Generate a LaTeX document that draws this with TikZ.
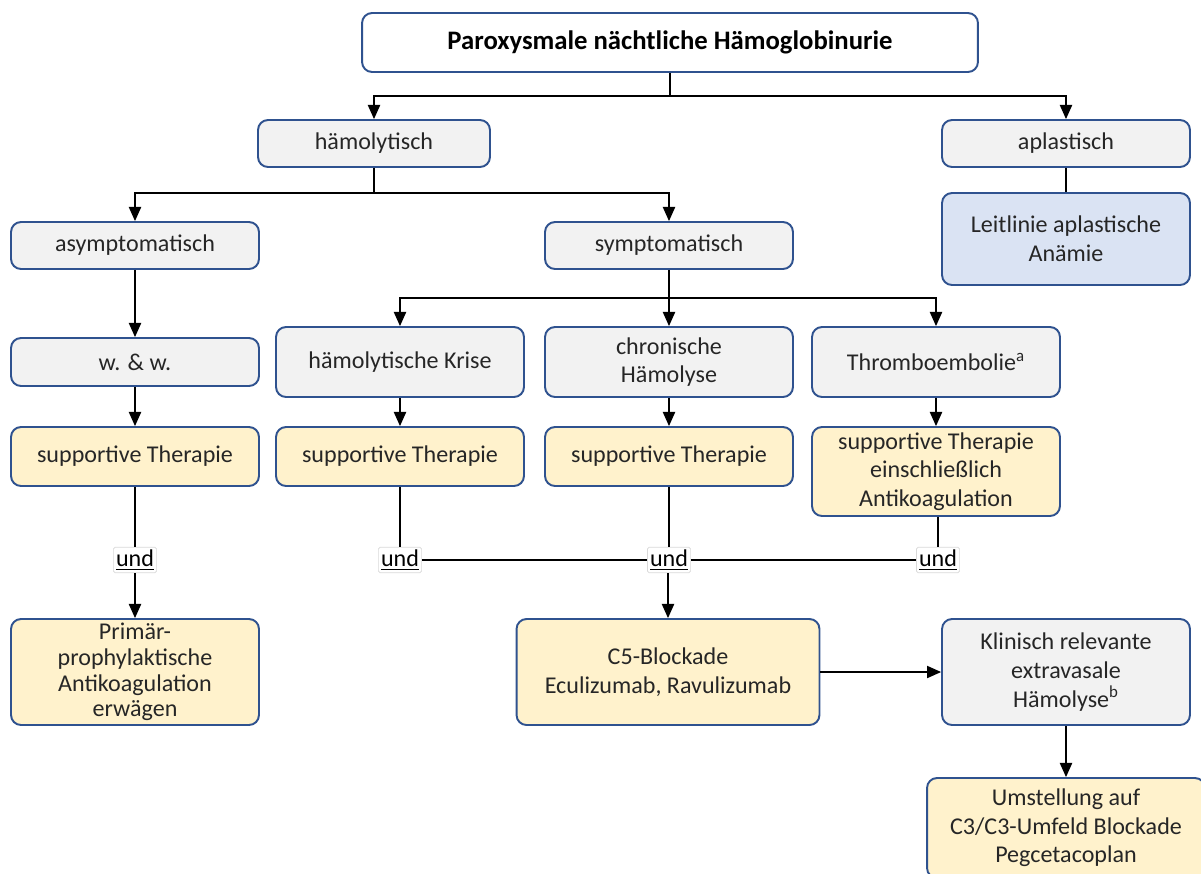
\documentclass[tikz,border=0pt]{standalone}
\usepackage{fontspec}
\setmainfont{Carlito}
\usepackage{xcolor}
\usetikzlibrary{arrows.meta,positioning}

\definecolor{rand}{HTML}{2F528F}
\definecolor{grau}{HTML}{F2F2F2}
\definecolor{gelb}{HTML}{FFF2CC}
\definecolor{hblau}{HTML}{DAE3F3}

\begin{document}
\begin{tikzpicture}[x=0.02cm, y=-0.02cm, font=\fontsize{13.7}{16.3}\selectfont, every node/.style={inner sep=2pt}]
        \tikzset{
            box/.style={draw=rand, line width=1.1pt, rounded corners=0.2cm, align=center, text=black!85, minimum width=4.96cm, minimum height=0.94cm},
            gr/.style={box, fill=grau},
            ge/.style={box, fill=gelb},
            bl/.style={box, fill=hblau},
            und/.style={draw=black!15, fill=white, rounded corners=1pt, inner sep=1.5pt},
            arr/.style={-{Triangle[length=8pt,width=7pt]}, line width=0.6pt},
            ln/.style={line width=0.6pt}
        }
        \useasboundingbox (0,0) rectangle (1201,873);

        % Kopf und erste Ebene
        \node[box, fill=white, minimum width=12.32cm, minimum height=1.18cm, text=black, font=\fontsize{15.2}{18}\selectfont\bfseries] (pnh) at (670,42.5) {Paroxysmale nächtliche Hämoglobinurie};
        \node[gr, minimum width=4.64cm] (haem) at (374,143.5) {hämolytisch};
        \node[gr] (aplast) at (1066,143.5) {aplastisch};
        \node[bl, minimum height=1.84cm] (leit) at (1066,239) {Leitlinie aplastische\\Anämie};

        % zweite Ebene
        \node[gr] (asym) at (135,245.5) {asymptomatisch};
        \node[gr] (sym) at (669,245.5) {symptomatisch};

        % dritte Ebene
        \node[gr, minimum height=0.96cm] (ww) at (135,362) {w. \& w.};
        \node[gr, minimum height=1.4cm] (krise) at (400,362) {hämolytische Krise};
        \node[gr, minimum height=1.4cm] (chron) at (669,362) {chronische\\Hämolyse};
        \node[gr, minimum height=1.4cm] (thromb) at (936,362) {Thromboembolie\textsuperscript{a}};

        % Therapie
        \node[ge, minimum height=1.18cm] (supA) at (135,456.5) {supportive Therapie};
        \node[ge, minimum height=1.18cm] (supB) at (400,456.5) {supportive Therapie};
        \node[ge, minimum height=1.18cm] (supC) at (669,456.5) {supportive Therapie};
        \node[ge, minimum height=1.78cm] (supD) at (936,471.5) {supportive Therapie\\einschließlich\\Antikoagulation};

        % Verknuepfungen
        \node[und] (undA) at (135,560) {\underline{und}};
        \node[und] (undB) at (400,560) {\underline{und}};
        \node[und] (undC) at (669,560) {\underline{und}};
        \node[und] (undD) at (938,560) {\underline{und}};

        % untere Ebene
        \node[ge, minimum height=2.12cm, font=\fontsize{13.7}{14.6}\selectfont] (prim) at (135,672) {Primär-\\prophylaktische\\Antikoagulation\\erwägen};
        \node[ge, minimum width=6.06cm, minimum height=2.12cm] (cfive) at (668,672) {C5-Blockade\\Eculizumab, Ravulizumab};
        \node[gr, minimum height=2.12cm] (klin) at (1066,672) {Klinisch relevante\\extravasale\\Hämolyse\textsuperscript{b}};
        \node[ge, minimum width=5.56cm, minimum height=2.0cm] (umst) at (1066,828) {Umstellung auf\\C3/C3-Umfeld Blockade\\Pegcetacoplan};

        % Aeste
        \coordinate (splitA) at (670,96);
        \draw[ln] (pnh.south) -- (splitA);
        \draw[arr] (splitA) -| (haem.north);
        \draw[arr] (splitA) -| (aplast.north);
        \draw[ln] (aplast) -- (leit);

        \coordinate (splitB) at (374,193);
        \draw[ln] (haem.south) -- (splitB);
        \draw[arr] (splitB) -| (asym.north);
        \draw[arr] (splitB) -| (sym.north);

        \coordinate (splitC) at (669,298);
        \draw[ln] (sym.south) -- (splitC);
        \draw[arr] (splitC) -| (krise.north);
        \draw[arr] (splitC) -- (chron.north);
        \draw[arr] (splitC) -| (thromb.north);

        \draw[arr] (asym) -- (ww);
        \draw[arr] (ww) -- (supA);
        \draw[arr] (krise) -- (supB);
        \draw[arr] (chron) -- (supC);
        \draw[arr] (thromb) -- (supD);

        \draw[ln] (supA) -- (undA);
        \draw[ln] (supB) -- (undB);
        \draw[ln] (supC) -- (undC);
        \draw[ln] (supD.south -| undD) -- (undD);
        \draw[ln] (undB) -- (undC);
        \draw[ln] (undC) -- (undD);

        \draw[arr] (undA) -- (prim);
        \draw[arr] (undC.south -| cfive.north) -- (cfive.north);
        \draw[arr] (cfive) -- (klin);
        \draw[arr] (klin) -- (umst);
    \end{tikzpicture}
\end{document}
